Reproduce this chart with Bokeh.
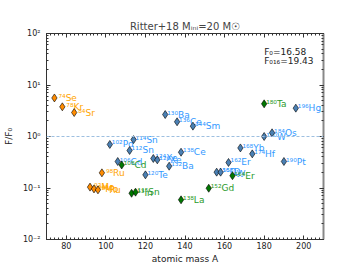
from bokeh.plotting import figure
from bokeh.models import (Span, LinearAxis, LogAxis, SingleIntervalTicker,
                          LogTicker, CustomJSTickFormatter, ColumnDataSource)
from bokeh.core.properties import value
from bokeh.embed import file_html
from bokeh.resources import INLINE

# ---- data ----
orange_mass = [74, 78, 84, 92, 94, 96, 98]
orange_elem = ["Se", "Kr", "Sr", "Mo", "Mo", "Ru", "Ru"]
orange_ratio = [5.6, 3.77, 2.92, 0.104, 0.096, 0.092, 0.197]

blue_mass = [102, 106, 112, 114, 120, 124, 126, 130, 132, 136, 138, 144,
             156, 158, 162, 168, 174, 180, 184, 190, 196]
blue_elem = ["Pd", "Cd", "Sn", "Sn", "Te", "Xe", "Xe", "Ba", "Ba", "Ce", "Ce", "Sm",
             "Dy", "Dy", "Er", "Yb", "Hf", "W", "Os", "Pt", "Hg"]
blue_ratio = [0.70, 0.327, 0.535, 0.87, 0.18, 0.374, 0.352, 2.67, 0.265, 1.93, 0.495, 1.59,
              0.203, 0.203, 0.313, 0.60, 0.46, 1.0, 1.18, 0.327, 3.55]

green_mass = [108, 113, 115, 138, 152, 164, 180]
green_elem = ["Cd", "In", "Sn", "La", "Gd", "Er", "Ta"]
green_ratio = [0.28, 0.079, 0.083, 0.059, 0.099, 0.173, 4.31]

title_text = "Ritter+18 Mᵢₙᵢ=20 M☉"
note_texts = ["F₀=16.58", "F₀₁₆=19.43"]
note_x = [180, 180]
note_y = [43.8, 28.6]
x_label = "atomic mass A"
y_label = "F/F₀"

SUP = str.maketrans("0123456789", "⁰¹²³⁴⁵⁶⁷⁸⁹")


def labels(masses, elems):
    return [str(m).translate(SUP) + e for m, e in zip(masses, elems)]


FONT = value("DejaVu Sans")

p = figure(width=345, height=268, x_range=(70, 210), y_range=(0.01, 100),
           y_axis_type="log", output_backend="svg", toolbar_location=None,
           min_border_left=45, min_border_top=33, min_border_right=22, min_border_bottom=29,
           background_fill_color="white", border_fill_color="white")
p.grid.visible = False
p.outline_line_color = "#333333"
p.outline_line_width = 1

p.title.text = title_text
p.title.align = "center"
p.title.text_font = "DejaVu Sans"
p.title.text_font_size = "10px"
p.title.text_font_style = "normal"
p.title.standoff = 4

xticker = SingleIntervalTicker(interval=20, num_minor_ticks=10)
yticker = LogTicker(num_minor_ticks=10)
yfmt = CustomJSTickFormatter(code="""
const e = Math.round(Math.log10(tick));
const sup = {"-":"\u207b","0":"\u2070","1":"\u00b9","2":"\u00b2","3":"\u00b3","4":"\u2074",
             "5":"\u2075","6":"\u2076","7":"\u2077","8":"\u2078","9":"\u2079"};
return "10" + String(e).split("").map(c => sup[c]).join("");
""")
blank = CustomJSTickFormatter(code="return '';")


def style_axis(ax):
    ax.axis_line_color = None
    ax.major_tick_in = 4
    ax.major_tick_out = 0
    ax.minor_tick_in = 2
    ax.minor_tick_out = 0
    ax.major_tick_line_color = "#333333"
    ax.minor_tick_line_color = "#333333"
    ax.major_label_text_font = "DejaVu Sans"
    ax.major_label_text_font_size = "8px"
    ax.major_label_text_color = "#222222"
    ax.axis_label_text_font = "DejaVu Sans"
    ax.axis_label_text_font_size = "9px"
    ax.axis_label_text_font_style = "normal"
    ax.axis_label_text_color = "#222222"


xa = p.xaxis[0]
xa.ticker = xticker
style_axis(xa)
xa.major_label_standoff = 2
xa.axis_label = x_label
xa.axis_label_standoff = 2

ya = p.yaxis[0]
ya.ticker = yticker
ya.formatter = yfmt
style_axis(ya)
ya.major_label_standoff = 6
ya.axis_label = y_label
ya.axis_label_standoff = 6

top = LinearAxis(ticker=xticker, formatter=blank)
style_axis(top)
top.major_label_standoff = 0
p.add_layout(top, "above")

right = LogAxis(ticker=yticker, formatter=blank)
style_axis(right)
right.major_label_standoff = 0
right.axis_line_color = "#888888"
right.axis_line_width = 2
p.add_layout(right, "right")

p.add_layout(Span(location=1, dimension="width", line_color="#9dbfe0",
                  line_dash="3 2", line_width=1))

groups = [
    (orange_mass, orange_elem, orange_ratio, "#ff8c00", "#ffa500", 4),
    (blue_mass, blue_elem, blue_ratio, "#4a80b4", "#3399ff", 2),
    (green_mass, green_elem, green_ratio, "#007800", "#2a9a2a", 2),
]

sources = []
for mass, elem, ratio, mcol, tcol, off in groups:
    src = ColumnDataSource(dict(mass=mass, ratio=ratio, label=labels(mass, elem)))
    sources.append((src, mcol))
    p.text(x="mass", y="ratio", text="label", source=src, x_offset=off, y_offset=0,
           text_baseline="alphabetic", text_align="left", text_font=FONT,
           text_font_size="9px", text_color=tcol)

for src, mcol in sources:
    p.scatter(x="mass", y="ratio", source=src, marker="diamond", size=8,
              fill_color=mcol, line_color="black", line_width=0.6)

p.text(x=note_x, y=note_y, text=note_texts, text_font=FONT, text_font_size="9px",
       text_baseline="alphabetic", text_align="left", text_color="#222222")

open("out.html", "w").write(file_html(p, INLINE))
